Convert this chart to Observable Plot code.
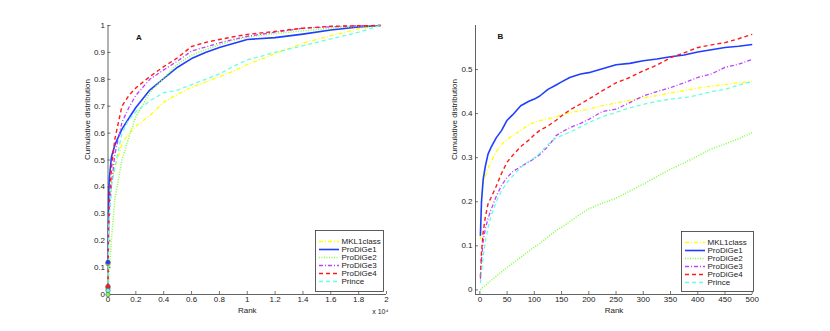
<!DOCTYPE html>
<html>
<head>
<meta charset="utf-8">
<script src="https://cdn.jsdelivr.net/npm/d3@7"></script>
<script src="https://cdn.jsdelivr.net/npm/@observablehq/plot@0.6"></script>
<style>
  html, body { margin: 0; padding: 0; background: #fff; }
  #chart { position: relative; width: 830px; height: 331px; overflow: hidden; background: #fff; }
  #chart > * { position: absolute; }
</style>
</head>
<body>
<div id="chart"></div>
<script>
// ---------- series names & styles ----------
const seriesNames = ["MKL1class", "ProDiGe1", "ProDiGe2", "ProDiGe3", "ProDiGe4", "Prince"];
const seriesColors = ["#ffff00", "#1f3fff", "#7fff3f", "#bf40ff", "#ff1a1a", "#66ffe0"];
const seriesDash = ["4,2,1,2", null, "1,1.5", "4,2,1,2", "4,3", "4,3"];
const seriesWidth = [1.3, 1.6, 1.5, 1.3, 1.4, 1.3];

// ---------- Panel A (rank up to ~2 x 10^4) ----------
const rankA = [0, 50, 100, 250, 500, 1000, 1500, 2000, 3000, 4000, 5000, 6000, 7000, 8000, 9000, 10000, 12000, 14000, 16000, 18000, 19570];
const mkl1classA = [0.115, 0.346, 0.38, 0.425, 0.473, 0.56, 0.60, 0.625, 0.665, 0.715, 0.745, 0.77, 0.79, 0.81, 0.83, 0.855, 0.895, 0.935, 0.962, 0.988, 1.0];
const prodige1A  = [0.12, 0.387, 0.435, 0.512, 0.557, 0.615, 0.655, 0.695, 0.76, 0.803, 0.845, 0.877, 0.9, 0.918, 0.933, 0.948, 0.955, 0.968, 0.983, 0.995, 1.0];
const prodige2A  = [0.0, 0.051, 0.097, 0.207, 0.357, 0.50, 0.585, 0.66, 0.75, 0.805, 0.857, 0.89, 0.91, 0.928, 0.945, 0.957, 0.97, 0.98, 0.99, 0.997, 1.0];
const prodige3A  = [0.025, 0.25, 0.305, 0.41, 0.523, 0.64, 0.695, 0.74, 0.80, 0.835, 0.868, 0.905, 0.92, 0.935, 0.948, 0.96, 0.975, 0.99, 0.995, 0.999, 1.0];
const prodige4A  = [0.03, 0.29, 0.355, 0.47, 0.58, 0.70, 0.74, 0.768, 0.81, 0.847, 0.88, 0.922, 0.937, 0.948, 0.958, 0.967, 0.978, 0.99, 0.997, 0.999, 1.0];
const princeA    = [0.015, 0.244, 0.30, 0.403, 0.473, 0.60, 0.65, 0.68, 0.72, 0.75, 0.76, 0.78, 0.80, 0.82, 0.848, 0.872, 0.9, 0.925, 0.95, 0.975, 1.0];
const xTicksA = [0, 2000, 4000, 6000, 8000, 10000, 12000, 14000, 16000, 18000, 20000];
const yTicksA = [0, 0.1, 0.2, 0.3, 0.4, 0.5, 0.6, 0.7, 0.8, 0.9, 1];

// ---------- Panel B (top 500 ranks) ----------
const rankB = [1, 3, 6, 10, 15, 20, 30, 40, 50, 60, 75, 90, 100, 110, 125, 140, 150, 165, 185, 200, 225, 250, 275, 300, 325, 350, 375, 400, 425, 450, 475, 500];
const mkl1classB = [0.115, 0.2, 0.24, 0.257, 0.275, 0.29, 0.313, 0.33, 0.342, 0.35, 0.362, 0.375, 0.38, 0.384, 0.388, 0.393, 0.397, 0.402, 0.407, 0.41, 0.418, 0.424, 0.43, 0.436, 0.441, 0.447, 0.452, 0.458, 0.462, 0.466, 0.47, 0.473];
const prodige1B  = [0.123, 0.2, 0.25, 0.28, 0.308, 0.322, 0.345, 0.362, 0.385, 0.397, 0.418, 0.428, 0.433, 0.44, 0.455, 0.465, 0.472, 0.482, 0.49, 0.493, 0.502, 0.511, 0.514, 0.52, 0.524, 0.529, 0.533, 0.54, 0.545, 0.55, 0.553, 0.557];
const prodige2B  = [0.0, 0.003, 0.006, 0.01, 0.016, 0.021, 0.031, 0.041, 0.051, 0.06, 0.074, 0.088, 0.097, 0.105, 0.12, 0.135, 0.142, 0.155, 0.172, 0.184, 0.197, 0.208, 0.224, 0.24, 0.257, 0.274, 0.288, 0.304, 0.32, 0.331, 0.343, 0.357];
const prodige3B  = [0.025, 0.07, 0.11, 0.138, 0.162, 0.18, 0.212, 0.238, 0.255, 0.268, 0.28, 0.29, 0.298, 0.307, 0.325, 0.35, 0.358, 0.368, 0.378, 0.387, 0.405, 0.41, 0.425, 0.44, 0.45, 0.459, 0.47, 0.482, 0.49, 0.505, 0.512, 0.523];
const prodige4B  = [0.03, 0.085, 0.13, 0.165, 0.195, 0.208, 0.235, 0.265, 0.29, 0.305, 0.325, 0.34, 0.352, 0.362, 0.372, 0.385, 0.395, 0.408, 0.422, 0.433, 0.452, 0.47, 0.482, 0.497, 0.51, 0.527, 0.538, 0.55, 0.556, 0.561, 0.57, 0.58];
const princeB    = [0.015, 0.04, 0.075, 0.11, 0.14, 0.165, 0.2, 0.225, 0.244, 0.258, 0.278, 0.292, 0.3, 0.31, 0.33, 0.345, 0.35, 0.358, 0.37, 0.38, 0.393, 0.403, 0.413, 0.421, 0.428, 0.433, 0.436, 0.442, 0.45, 0.455, 0.465, 0.473];
const xTicksB = [0, 50, 100, 150, 200, 250, 300, 350, 400, 450, 500];
const yTicksB = [0, 0.1, 0.2, 0.3, 0.4, 0.5];

const seriesA = [mkl1classA, prodige1A, prodige2A, prodige3A, prodige4A, princeA];
const seriesB = [mkl1classB, prodige1B, prodige2B, prodige3B, prodige4B, princeB];

const font = "'Liberation Sans', Arial, Helvetica, sans-serif";
const axisColor = "#3a3a3a";

function fmtNum(d) { return String(+d.toFixed(4)); }

function panel({ranks, series, xDomain, yDomain, xTicks, yTicks, xFormat, letter, letterDx, letterDy,
                width, height, mL, mR, mT, mB, ylabelDx, markers, extraText}) {
  const marks = [];
  // axis lines
  marks.push(Plot.ruleX([xDomain[0]], {stroke: axisColor, strokeWidth: 0.8}));
  marks.push(Plot.ruleY([yDomain[0]], {stroke: axisColor, strokeWidth: 0.8}));
  // inward ticks
  marks.push(Plot.axisX({ticks: xTicks, tickSize: -3, fill: "none", stroke: axisColor, strokeWidth: 0.7, label: null}));
  marks.push(Plot.axisY({ticks: yTicks, tickSize: -3, fill: "none", stroke: axisColor, strokeWidth: 0.7, label: null}));
  // tick labels
  marks.push(Plot.axisX({ticks: xTicks, tickSize: 0, tickPadding: 2, tickFormat: xFormat, fill: "#222", label: null, fontSize: 8}));
  marks.push(Plot.axisY({ticks: yTicks, tickSize: 0, tickPadding: 3, tickFormat: fmtNum, fill: "#222", label: null, fontSize: 8}));
  // lines
  series.forEach((vals, i) => {
    const rows = ranks.map((r, j) => ({rank: r, value: vals[j]}));
    marks.push(Plot.line(rows, {
      x: "rank", y: "value", stroke: seriesColors[i], strokeWidth: seriesWidth[i],
      strokeDasharray: seriesDash[i], strokeLinecap: "butt"
    }));
  });
  if (markers) {
    const firstRows = series.map((vals, i) => ({rank: ranks[0], value: vals[0], c: seriesColors[i]}));
    marks.push(Plot.dot(firstRows, {x: "rank", y: "value", r: 2.2, fill: d => d.c, stroke: "#556", strokeWidth: 0.6}));
  }
  // labels
  marks.push(Plot.text(["Cumulative distribution"], {frameAnchor: "left", rotate: -90, dx: ylabelDx, fontSize: 8, fill: "#222"}));
  marks.push(Plot.text(["Rank"], {frameAnchor: "bottom", dy: 18, fontSize: 8, fill: "#222"}));
  marks.push(Plot.text([letter], {frameAnchor: "top-left", dx: letterDx, dy: letterDy, fontSize: 8, fontWeight: "bold", fill: "#111"}));
  if (extraText) marks.push(extraText);

  return Plot.plot({
    width, height, marginLeft: mL, marginRight: mR, marginTop: mT, marginBottom: mB,
    x: {domain: xDomain},
    y: {domain: yDomain},
    style: {fontFamily: font, fontSize: "8px", background: "transparent", overflow: "visible"},
    marks
  });
}

function legend(w, h) {
  const marks = [Plot.frame({stroke: "#333", strokeWidth: 0.8, fill: "white"})];
  seriesNames.forEach((name, i) => {
    marks.push(Plot.ruleY([name], {y: d => d, x1: 0, x2: 1, stroke: seriesColors[i], strokeWidth: seriesWidth[i], strokeDasharray: seriesDash[i]}));
  });
  marks.push(Plot.text(seriesNames, {y: d => d, x: 1, dx: 2, textAnchor: "start", fontSize: 8, fill: "#222"}));
  return Plot.plot({
    width: w, height: h, margin: 0,
    x: {type: "linear", domain: [0, 1], range: [4, 24], axis: null},
    y: {type: "point", domain: seriesNames, range: [6, h - 5], axis: null},
    style: {fontFamily: font, fontSize: "8px", background: "transparent", overflow: "visible"},
    marks
  });
}

const chart = document.getElementById("chart");

const plotA = panel({
  ranks: rankA, series: seriesA, xDomain: [0, 20000], yDomain: [0, 1],
  xTicks: xTicksA, yTicks: yTicksA, xFormat: d => fmtNum(d / 10000),
  letter: "A", letterDx: 28, letterDy: 9,
  width: 415, height: 331, mL: 107.5, mR: 29, mT: 25, mB: 37, ylabelDx: -21, markers: true,
  extraText: Plot.text(["x 10\u2074"], {frameAnchor: "bottom-right", textAnchor: "end", dx: 2, dy: 19, fontSize: 7, fill: "#222"})
});
plotA.style.left = "0px"; plotA.style.top = "0px";
chart.appendChild(plotA);

const plotB = panel({
  ranks: rankB, series: seriesB, xDomain: [-8, 500.5], yDomain: [-0.0105, 0.6],
  xTicks: xTicksB, yTicks: yTicksB, xFormat: d => String(d),
  letter: "B", letterDx: 22, letterDy: 8,
  width: 415, height: 331, mL: 60, mR: 78, mT: 25, mB: 37, ylabelDx: -21, markers: false
});
plotB.style.left = "415px"; plotB.style.top = "0px";
chart.appendChild(plotB);

const legA = legend(68, 61);
legA.style.left = "315px"; legA.style.top = "230px";
chart.appendChild(legA);

const legB = legend(72, 60);
legB.style.left = "681px"; legB.style.top = "230.5px";
chart.appendChild(legB);
</script>
</body>
</html>
